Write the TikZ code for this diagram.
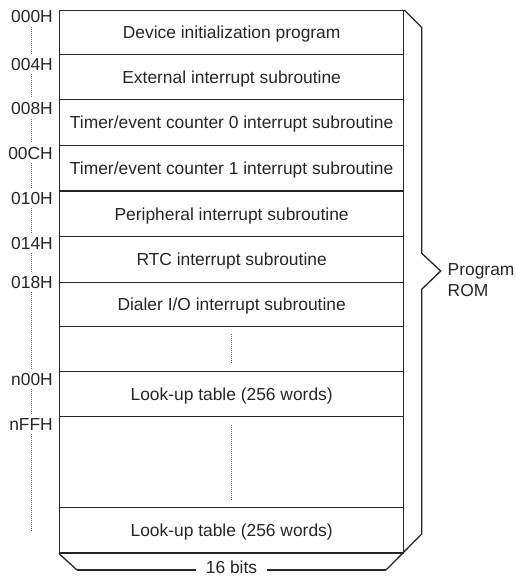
\documentclass[tikz,border=0pt]{standalone}
\usepackage{fontspec}
\setmainfont{Liberation Sans}
\begin{document}
\begin{tikzpicture}[x=1pt,y=-1pt,
  txt/.style={font=\fontsize{17.4}{21}\selectfont, text height=12.4pt, text depth=0pt, text=black!85},
  row/.style={txt, draw=black!85, line width=1.3pt, minimum width=344pt, anchor=north west, inner sep=0pt},
  addr/.style={txt, anchor=east, inner xsep=0pt, inner ysep=4pt},
  dots/.style={draw=black!60, line width=0.9pt, dash pattern=on 1pt off 1pt},
  outline/.style={draw=black!85, line width=1.3pt, line join=miter}]
\useasboundingbox (0,0) rectangle (515,577);

% memory rows
\node[row, minimum height=44pt]   (r1)  at (59,10)    {Device initialization program};
\node[row, minimum height=45pt]   (r2)  at (59,54)    {External interrupt subroutine};
\node[row, minimum height=46pt]   (r3)  at (59,99)    {Timer/event counter 0 interrupt subroutine};
\node[row, minimum height=45.5pt] (r4)  at (59,145)   {Timer/event counter 1 interrupt subroutine};
\node[row, minimum height=45.5pt] (r5)  at (59,190.5) {Peripheral interrupt subroutine};
\node[row, minimum height=45.5pt] (r6)  at (59,236)   {RTC interrupt subroutine};
\node[row, minimum height=44.5pt] (r7)  at (59,281.5) {Dialer I/O interrupt subroutine};
\node[row, minimum height=45pt]   (r8)  at (59,326)   {};
\node[row, minimum height=45pt]   (r9)  at (59,371)   {Look-up table (256 words)};
\node[row, minimum height=91pt]   (r10) at (59,416)   {};
\node[row, minimum height=45.3pt] (r11) at (59,507)   {Look-up table (256 words)};

% dotted continuation marks inside blank rows
\draw[dots] ([yshift=-8pt]r8.north) -- ([yshift=10pt]r8.south);
\draw[dots] ([yshift=-9pt]r10.north) -- ([yshift=9pt]r10.south);

% 3D outline: right face with brace, bottom face
\coordinate (tr) at (421.7,27.5);
\coordinate (b1) at (421.7,253.3);
\coordinate (tip) at (440.7,271);
\coordinate (b2) at (421.7,289.3);
\coordinate (br) at (421.7,534);
\coordinate (bbr) at (386,570);
\coordinate (bbl) at (77,570);
\draw[outline] (r1.north east) -- (tr) -- (b1) -- (tip) -- (b2) -- (br) -- (bbr);
\draw[outline] (r11.south west) -- (bbl);

\node[txt, inner xsep=10pt, inner ysep=0pt] (bits) at (231.5,567.5) {16 bits};
\draw[outline] (bbl) -- (bits.west |- bbl);
\draw[outline] (bits.east |- bbr) -- (bbr);

\node[font=\fontsize{17.4}{21}\selectfont, text=black!85, anchor=north west, align=left, inner sep=0pt] (rom) at (447.5,263) {Program\\ROM};

% address labels
\coordinate (dl) at (31,0);
\node[addr] (a1) at (53,16.7) {000H};
\node[addr] (a2) at (53,64)   {004H};
\node[addr] (a3) at (53,108.5){008H};
\node[addr] (a4) at (53,153)  {00CH};
\node[addr] (a5) at (53,198)  {010H};
\node[addr] (a6) at (53,243)  {014H};
\node[addr] (a7) at (53,282)  {018H};
\node[addr] (a8) at (53,379)  {n00H};
\node[addr] (a9) at (53,424)  {nFFH};
\coordinate (aend) at (31,532);

\draw[dots] (a1.south -| dl) -- (a2.north -| dl);
\draw[dots] (a2.south -| dl) -- (a3.north -| dl);
\draw[dots] (a3.south -| dl) -- (a4.north -| dl);
\draw[dots] (a4.south -| dl) -- (a5.north -| dl);
\draw[dots] (a5.south -| dl) -- (a6.north -| dl);
\draw[dots] (a6.south -| dl) -- (a7.north -| dl);
\draw[dots] (a7.south -| dl) -- (a8.north -| dl);
\draw[dots] (a8.south -| dl) -- (a9.north -| dl);
\draw[dots] (a9.south -| dl) -- (aend);
\end{tikzpicture}
\end{document}
